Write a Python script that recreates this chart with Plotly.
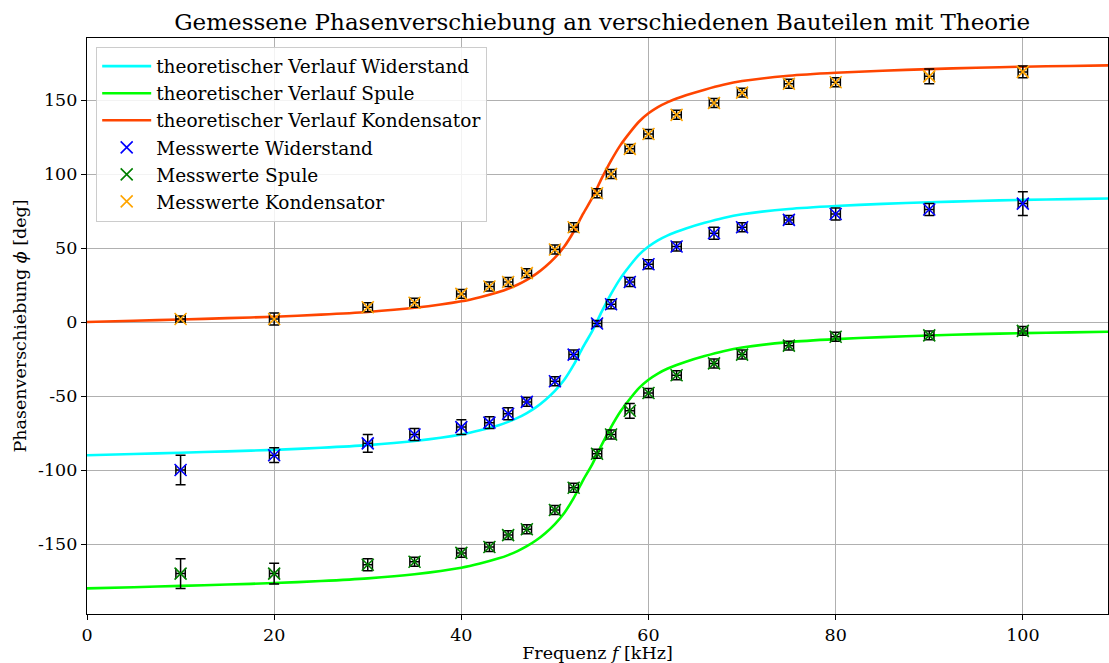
import plotly.graph_objects as go

# Theoretical curves
x_theo = [0, 5, 10, 15, 20, 25, 30, 35, 40, 42, 44, 45, 46, 47, 48, 49, 50, 51, 52, 53,
          54, 55, 56, 57, 58, 59, 60, 61, 62, 63, 64, 66, 68, 70, 75, 80, 85, 90, 95, 100, 105, 110]
theo_kond = [0, 0.8, 1.7, 2.6, 3.6, 5, 6.8, 9.6, 14, 16.8, 20.3, 22.5, 25.2, 28.5, 32.5, 37.5, 43.5, 51, 61, 73,
             84, 97, 109, 119.5, 128, 135.5, 141, 145.2, 148.4, 151, 153.2, 157, 160.3, 162.8, 166.4, 168.4, 169.8, 170.9, 171.8, 172.5, 173, 173.5]
theo_wid = [-90, -89.2, -88.3, -87.4, -86.4, -85, -83.2, -80.4, -76, -73.2, -69.7, -67.5, -64.8, -61.5, -57.5, -52.5, -46.5, -39, -29, -17,
            -6, 7, 19, 29.5, 38, 45.5, 51, 55.2, 58.4, 61, 63.2, 67, 70.3, 72.8, 76.4, 78.4, 79.8, 80.9, 81.8, 82.5, 83, 83.5]
theo_spu = [-180, -179.2, -178.3, -177.4, -176.4, -175, -173.2, -170.4, -166, -163.2, -159.7, -157.5, -154.8, -151.5, -147.5, -142.5, -136.5, -129, -119, -107,
            -96, -83, -71, -60.5, -52, -44.5, -39, -34.8, -31.6, -29, -26.8, -23, -19.7, -17.2, -13.6, -11.6, -10.2, -9.1, -8.2, -7.5, -7, -6.5]

# Measurements
x_meas = [10, 20, 30, 35, 40, 43, 45, 47, 50, 52, 54.5, 56, 58, 60, 63, 67, 70, 75, 80, 90, 100]
x_err = [0.5] * len(x_meas)
wid_meas = [-100, -90, -82, -76, -71, -68, -62, -54, -40, -22, -1, 12, 27, 39, 51, 60, 64, 69, 73, 76, 80]
wid_err = [10, 5, 6, 4, 5, 4, 4, 3, 3, 3, 2, 3, 3, 3, 3, 4, 3, 3, 4, 4, 8]
spu_meas = [-170, -170, -164, -162, -156, -152, -144, -140, -127, -112, -89, -76, -60, -48, -36, -28, -22, -16, -10, -9, -6]
spu_err = [10, 7, 4, 3, 3, 3, 3, 3, 3, 3, 3, 3, 5, 3, 3, 3, 3, 3, 3, 3, 3]
kond_meas = [2, 2, 10, 13, 19, 24, 27, 33, 49, 64, 87, 100, 117, 127, 140, 148, 155, 161, 162, 166, 169]
kond_err = [2, 4, 3, 3, 3, 3, 3, 3, 3, 3, 3, 3, 3, 3, 3, 3, 3, 3, 3, 5, 4]

y_ticks = [-150, -100, -50, 0, 50, 100, 150]
y_ticktext = ["-150", "-100", "-50", "0", "50", "100", "150"]
x_ticks = [0, 20, 40, 60, 80, 100]

FONT = "DejaVu Serif"

fig = go.Figure()

for i, (name, ys, col) in enumerate([("theoretischer Verlauf Widerstand", theo_wid, "#00FFFF"),
                                     ("theoretischer Verlauf Spule", theo_spu, "#00FF00"),
                                     ("theoretischer Verlauf Kondensator", theo_kond, "#FF4500")]):
    fig.add_trace(go.Scatter(x=x_theo, y=ys, mode="lines", name=name, legendgroup=f"g{i}",
                             line=dict(color=col, width=2.6, shape="spline", smoothing=0.8)))

for i, (name, ys, errs, col) in enumerate([("Messwerte Widerstand", wid_meas, wid_err, "#0000FF"),
                                          ("Messwerte Spule", spu_meas, spu_err, "#008000"),
                                          ("Messwerte Kondensator", kond_meas, kond_err, "#FFA500")]):
    fig.add_trace(go.Scatter(
        x=x_meas, y=ys, mode="markers", name=name, legendgroup=f"m{i}",
        marker=dict(symbol="x-thin", size=12, color=col, line=dict(color=col, width=1.6)),
        error_y=dict(type="data", array=errs, visible=True, color="black", thickness=1.5, width=5),
        error_x=dict(type="data", array=x_err, visible=True, color="black", thickness=1.5, width=5),
    ))

fig.update_layout(
    width=1109, height=663,
    margin=dict(l=87, r=1, t=38, b=49),
    paper_bgcolor="white", plot_bgcolor="white",
    font=dict(family=FONT, size=17.5, color="black"),
    title=dict(text="Gemessene Phasenverschiebung an verschiedenen Bauteilen mit Theorie",
               x=0.543, xanchor="center", y=0.967, yanchor="middle",
               font=dict(family=FONT, size=23, color="black")),
    showlegend=True,
    legend=dict(x=0.009, y=0.985, xanchor="left", yanchor="top",
                bgcolor="rgba(255,255,255,0.85)", bordercolor="#cccccc", borderwidth=1,
                font=dict(family=FONT, size=18.5, color="black"),
                itemwidth=49, tracegroupgap=0),
)

fig.update_xaxes(range=[0, 109.1], tickvals=x_ticks, ticks="outside", ticklen=5, tickwidth=1,
                 tickcolor="black", showline=True, linecolor="black", linewidth=1.2, mirror=True,
                 showgrid=True, gridcolor="#b0b0b0", gridwidth=1, zeroline=False,
                 title=dict(text="Frequenz <i>f</i> [kHz]", standoff=4, font=dict(size=17.5)))
fig.update_yaxes(range=[-197.3, 191.9], tickvals=y_ticks, ticktext=y_ticktext, ticks="outside",
                 ticklen=5, tickwidth=1, tickcolor="black", showline=True, linecolor="black",
                 linewidth=1.2, mirror=True, showgrid=True, gridcolor="#b0b0b0", gridwidth=1,
                 zeroline=False,
                 title=dict(text="Phasenverschiebung <i>ϕ</i> [deg]", standoff=6, font=dict(size=17.5)))

fig.write_html("out.html", config={"displayModeBar": False},
               post_script="document.body.style.margin='0px';document.body.style.padding='0px';")
